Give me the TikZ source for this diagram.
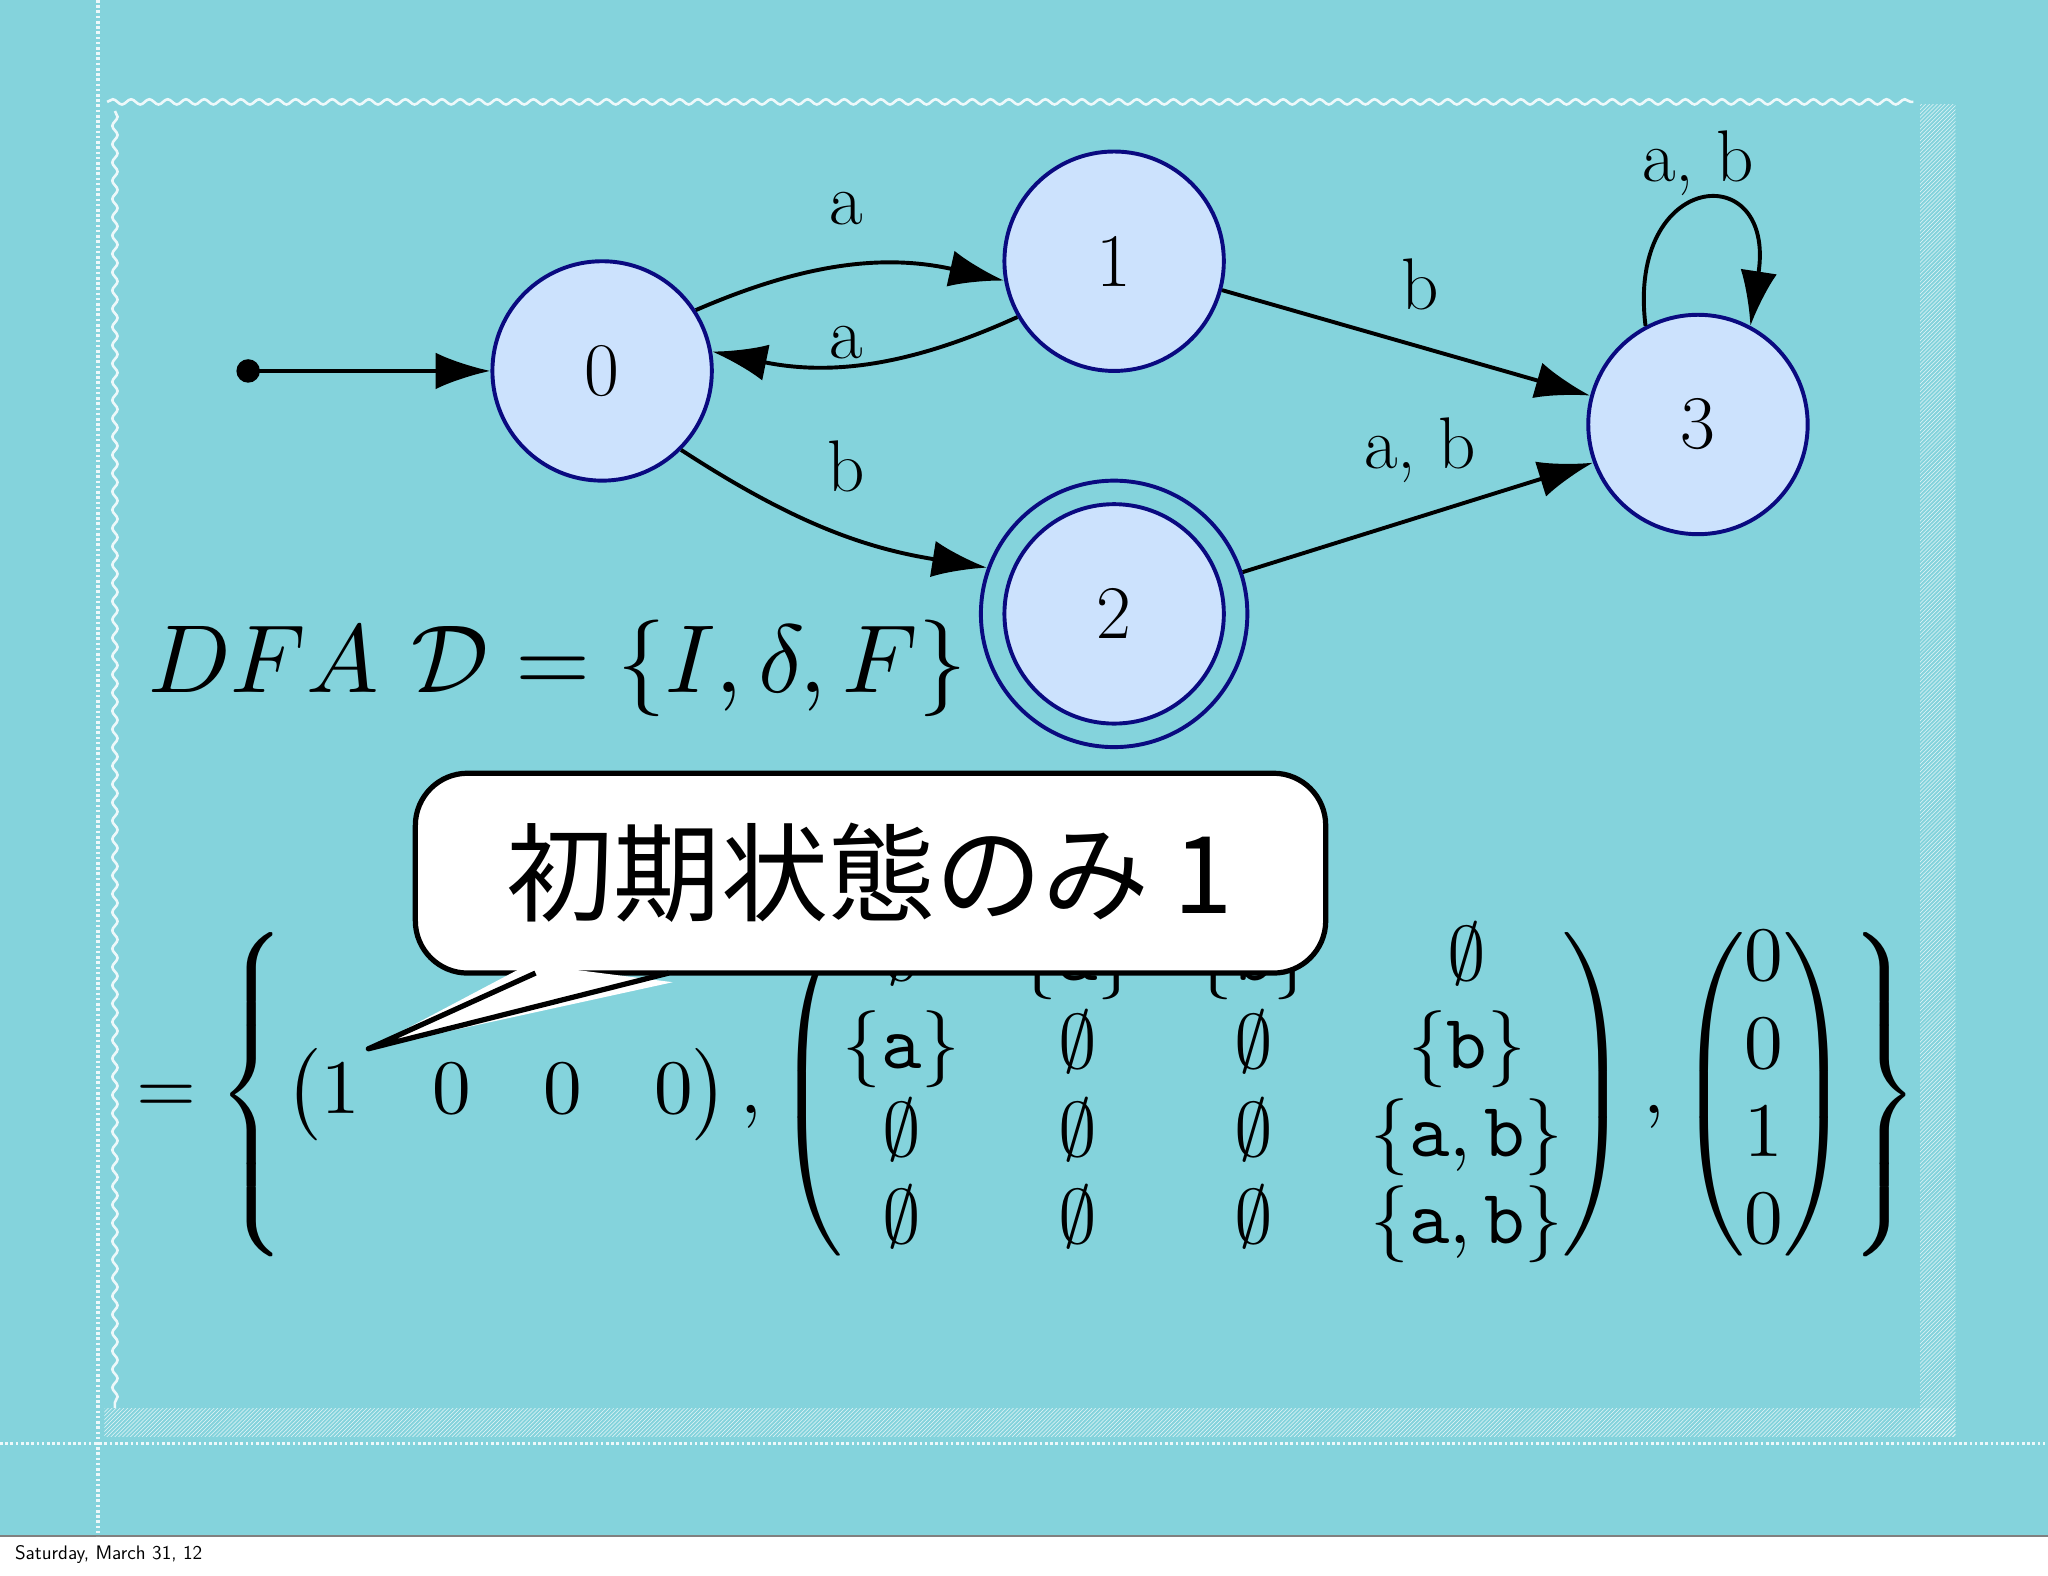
\documentclass[tikz,border=0pt]{standalone}
\usepackage{amsmath,amssymb}
\usepackage{fontspec}
\newfontfamily\cjk{Noto Sans CJK JP}
\usetikzlibrary{arrows.meta,decorations.pathmorphing,patterns}
\definecolor{bg}{HTML}{84D3DC}
\definecolor{sfill}{HTML}{CCE2FD}
\definecolor{sdraw}{HTML}{0A0A80}
\tikzset{
 st/.style={circle,draw=sdraw,fill=sfill,line width=3pt,minimum size=168pt,inner sep=0pt,font=\fontsize{58}{60}\selectfont},
 tr/.style={line width=3pt,-{Latex[length=42pt,width=28pt]}},
 lab/.style={font=\fontsize{56}{60}\selectfont},
 deco/.style={white!85!bg,line width=2pt}
}
\begin{document}
\begin{tikzpicture}[x=1pt,y=1pt]
\useasboundingbox (0,0) rectangle (1568,-1206);
\fill[bg] (0,0) rectangle (1568,-1176);
\fill[white] (0,-1176) rectangle (1568,-1206);
\draw[gray,line width=1pt] (0,-1176) -- (1568,-1176);
\node[anchor=west,font=\sffamily\fontsize{15}{17}\selectfont] (date) at (8,-1190) {Saturday, March 31, 12};
% decorative border
\draw[deco,dotted,line width=2.5pt] (75,0) -- (75,-1176);
\draw[deco,dotted,line width=2.5pt] (0,-1105) -- (1568,-1105);
\draw[deco,decorate,decoration={snake,amplitude=2pt,segment length=14pt}] (82,-78) -- (1465,-78);
\draw[deco,decorate,decoration={snake,amplitude=2pt,segment length=14pt}] (88,-85) -- (88,-1078);
\fill[pattern=north east lines,pattern color=white!80!bg] (1470,-80) rectangle (1497,-1100);
\fill[pattern=north east lines,pattern color=white!80!bg] (80,-1078) rectangle (1497,-1100);
% automaton
\node[st] (s0) at (461,-284) {0};
\node[st] (s1) at (853,-200) {1};
\node[st,minimum size=204pt,fill=none] (s2o) at (853,-470) {};
\node[st] (s2) at (853,-470) {2};
\node[st] (s3) at (1300,-325) {3};
\fill (190,-284) circle (9pt) coordinate (start);
\draw[tr] (start) -- (s0);
\draw[tr] (s0.33) to[bend left=18] (s1.190);
\draw[tr] (s1.210) to[bend left=18] (s0.10);
\draw[tr] (s0.-45) to[bend right=12] (s2o.160);
\draw[tr] (s1.-15) -- (s3.165);
\draw[tr] (s2o.18) -- (s3.200);
\draw[tr] (s3.118) .. controls (1245,-130) and (1360,-120) .. (s3.62);
\node[lab] (la1) at (648,-160) {a};
\node[lab] (la2) at (648,-262) {a};
\node[lab] (lb1) at (648,-357) {b};
\node[lab] (lb2) at (1087,-218) {b};
\node[lab] (lab23) at (1087,-345) {a, b};
\node[lab] (lab33) at (1300,-125) {a, b};
% formula
\node[anchor=west,scale=7.4,inner sep=0pt] (dfa) at (112,-512) {$DFA\ \mathcal{D}=\{I,\delta,F\}$};
\node[anchor=west,scale=5.9,inner sep=0pt] (eq) at (103,-838)
{$= \left\{ \setlength{\arraycolsep}{4.7pt}\begin{pmatrix}1&0&0&0\end{pmatrix}, \setlength{\arraycolsep}{3.8pt}\renewcommand{\arraystretch}{0.95}\begin{pmatrix}\emptyset&\{\mathtt{a}\}&\{\mathtt{b}\}&\emptyset\\ \{\mathtt{a}\}&\emptyset&\emptyset&\{\mathtt{b}\}\\ \emptyset&\emptyset&\emptyset&\{\mathtt{a},\mathtt{b}\}\\ \emptyset&\emptyset&\emptyset&\{\mathtt{a},\mathtt{b}\}\end{pmatrix}, \setlength{\arraycolsep}{3pt}\begin{pmatrix}0\\0\\1\\0\end{pmatrix}\right\}$};
% callout
\coordinate (tip) at (282,-803);
\draw[fill=white,line width=4pt,rounded corners=40pt] (318,-592) rectangle (1015,-745);
\fill[white] (405,-738) -- (tip) -- (515,-752) -- cycle;
\draw[line width=4pt,line join=round] (410,-745) -- (tip) -- (512,-745);
\node[font=\cjk\fontsize{82}{86}\selectfont] (call) at (666,-668) {初期状態のみ 1};
\end{tikzpicture}
\end{document}
